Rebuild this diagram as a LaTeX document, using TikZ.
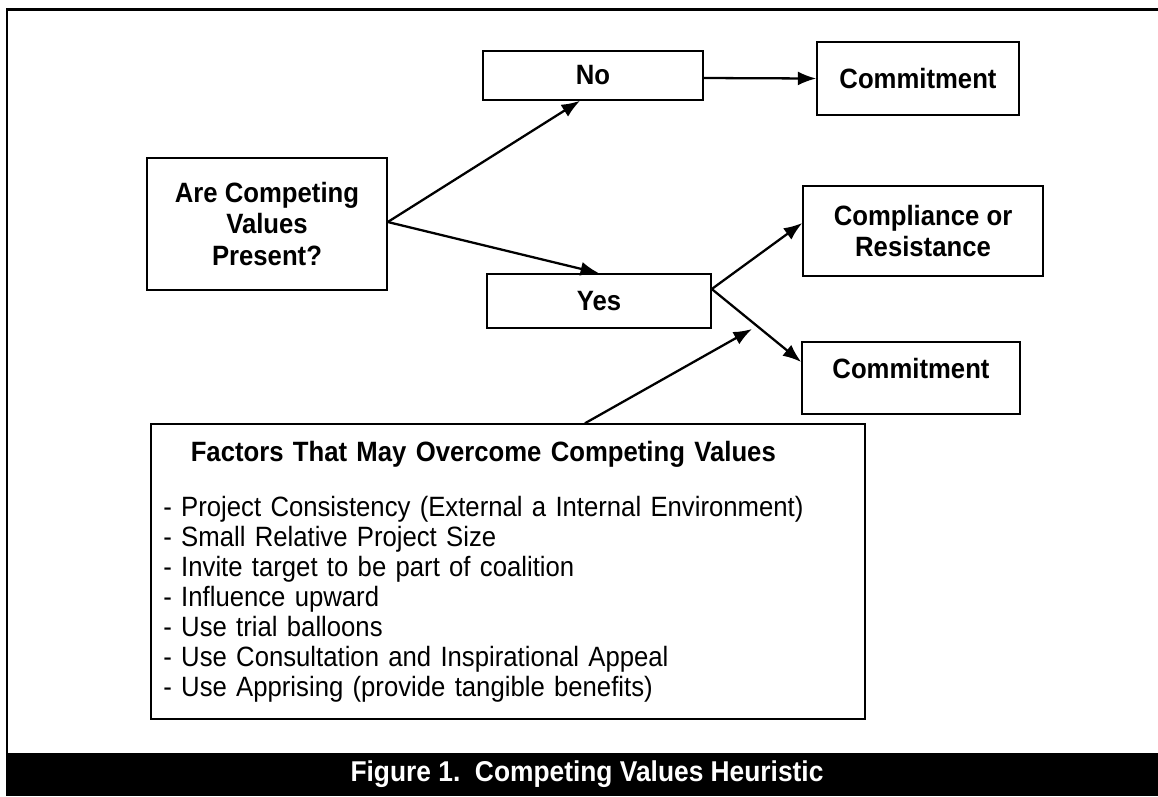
\documentclass[tikz,border=0pt]{standalone}
\usepackage{fontspec}
\setmainfont{Liberation Sans}[FakeStretch=0.92]
\usepackage{tikz}
\usetikzlibrary{arrows.meta,positioning,calc}

\begin{document}
\begin{tikzpicture}[x=0.02cm,y=-0.02cm,
    box/.style={draw,line width=0.9pt,align=center,inner sep=0pt,
        font=\fontsize{15.9}{18}\selectfont\bfseries},
    arr/.style={line width=1.3pt,-{Latex[length=10.5pt,width=8pt]}}]
\useasboundingbox (0,0) rectangle (1158,796);

% Frame
\draw[line width=1.7pt] (7,753) |- (1158,9);

% Question
\node[box,minimum width=4.8cm,minimum height=2.64cm] (q) at (267,224)
    {Are Competing\\Values\\Present?};

% No branch
\node[box,minimum width=4.4cm,minimum height=0.98cm] (no) at (593,75.5) {No};
\node[box,minimum width=4.04cm,minimum height=1.46cm] (committop) at (918,78.5) {Commitment};

% Yes branch
\node[box,minimum width=4.48cm,minimum height=1.08cm] (yes) at (599,301) {Yes};
\node[box,minimum width=4.8cm,minimum height=1.8cm] (compliance) at (923,231)
    {Compliance or\\Resistance};
\node[box,minimum width=4.36cm,minimum height=1.44cm,text depth=11pt] (commitlow) at (911,378) {Commitment};

% Factors
\node[draw,line width=0.9pt,minimum width=14.28cm,minimum height=5.9cm] (factors) at (508,571.5) {};
\node[anchor=north west,inner sep=0pt,text width=13.8cm,align=left,
    font=\fontsize{15.9}{17.1}\selectfont] (factorslist) at (163,441)
    {{\bfseries\makebox[12.8cm]{Factors That May Overcome Competing Values}}\\[14pt]
     - Project Consistency (External a Internal Environment)\\
     - Small Relative Project Size\\
     - Invite target to be part of coalition\\
     - Influence upward\\
     - Use trial balloons\\
     - Use Consultation and Inspirational Appeal\\
     - Use Apprising (provide tangible benefits)};
\coordinate (nudge) at (752,329);

% Arrows
\draw[arr] ($(q.east)+(0,-2)$) -- ($(no.south)+(-13,0)$);
\draw[arr] ($(q.east)+(0,-2)$) -- (yes.north);
\draw[arr] ($(no.east)+(0,2.5)$) -- (committop.west);
\draw[arr] ($(yes.east)+(0,-12)$) -- ($(compliance.west)+(0,-8)$);
\draw[arr] ($(yes.east)+(0,-12)$) -- ($(commitlow.west)+(0,-16)$);
\draw[arr] ($(factors.north)+(77,0)$) -- (nudge);

% Caption
\fill[black] (5.5,753) rectangle (1158,796);
\node[text=white,font=\fontsize{16.3}{18}\selectfont\bfseries] (caption) at (587,774.5)
    {Figure 1.\ \ Competing Values Heuristic};
\end{tikzpicture}
\end{document}
